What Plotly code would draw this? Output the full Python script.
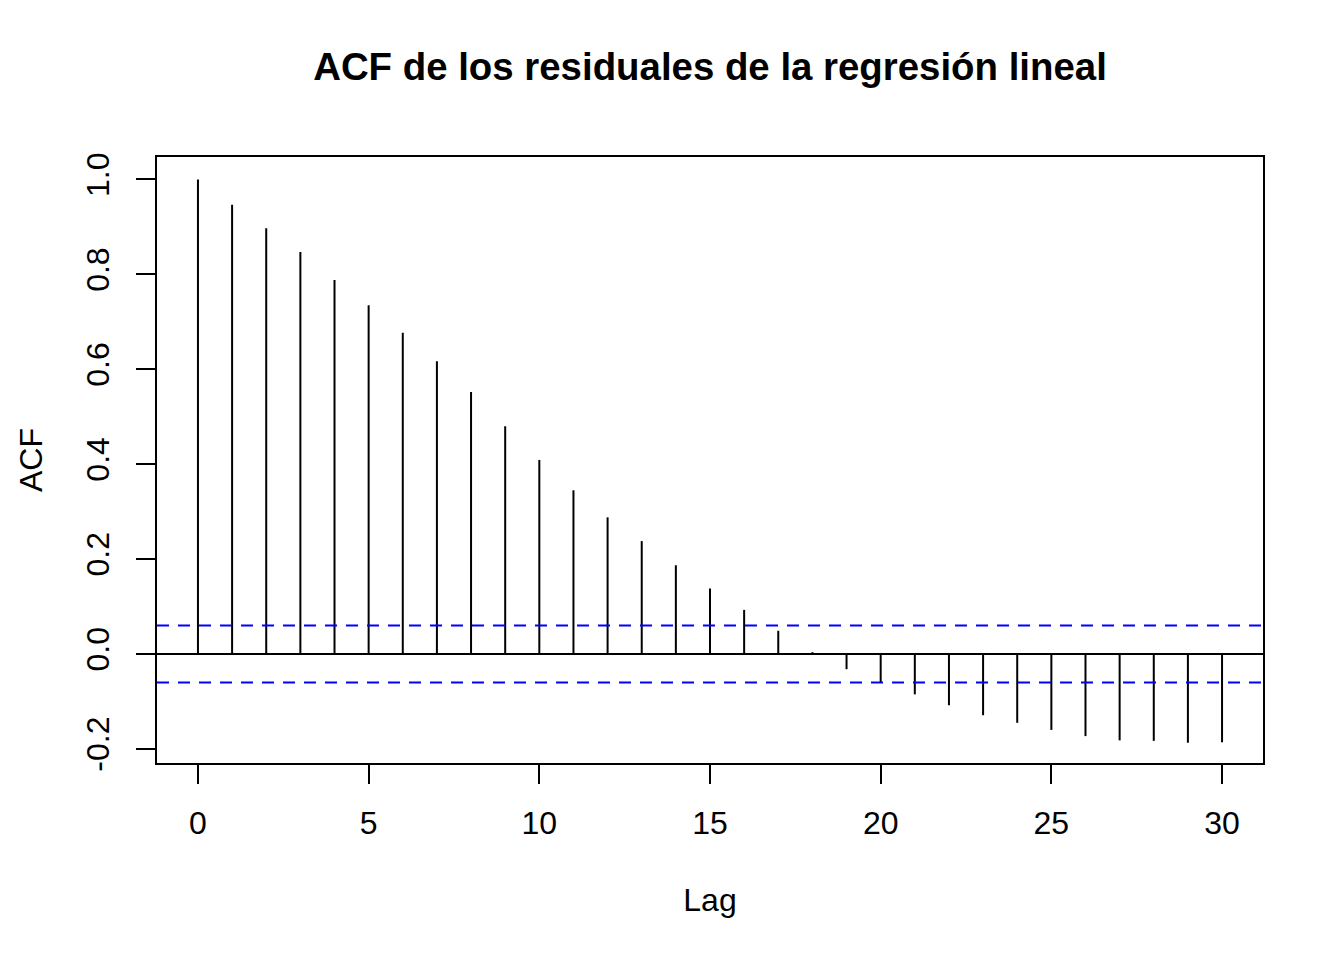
import plotly.graph_objects as go

lags = list(range(31))
acf_values = [1.000, 0.947, 0.897, 0.847, 0.788, 0.735, 0.677, 0.617, 0.552, 0.480,
              0.409, 0.345, 0.288, 0.238, 0.187, 0.138, 0.093, 0.049, 0.004, -0.032,
              -0.059, -0.085, -0.108, -0.129, -0.145, -0.160, -0.173, -0.182, -0.183,
              -0.187, -0.186]
ci_bound = 0.060
x_ticks = [0, 5, 10, 15, 20, 25, 30]
y_ticks = [-0.2, 0.0, 0.2, 0.4, 0.6, 0.8, 1.0]
y_tick_labels = ["-0.2", "0.0", "0.2", "0.4", "0.6", "0.8", "1.0"]

FONT = "Liberation Sans, Arial, Helvetica, sans-serif"

# spikes built from the data arrays
xs, ys = [], []
for lag, v in zip(lags, acf_values):
    xs += [lag, lag, None]
    ys += [0, v, None]

fig = go.Figure()
fig.add_trace(go.Scatter(x=xs, y=ys, mode="lines",
                         line=dict(color="black", width=2), hoverinfo="skip",
                         showlegend=False))

# zero line and confidence bounds
fig.add_hline(y=0, line=dict(color="black", width=2))
fig.add_hline(y=ci_bound, line=dict(color="blue", width=2, dash="12px,9px"))
fig.add_hline(y=-ci_bound, line=dict(color="blue", width=2, dash="12px,9px"))

W, H = 1336, 952
fig.update_layout(
    width=W, height=H,
    margin=dict(l=149, r=81, t=149, b=197),
    paper_bgcolor="white", plot_bgcolor="white",
    font=dict(family=FONT, size=32, color="black"),
    title=dict(text="<b>ACF de los residuales de la regresión lineal</b>",
               x=0.5, xref="paper", xanchor="center",
               y=1 - 59 / H, yref="container", yanchor="middle",
               font=dict(size=38.4, family=FONT, color="black")),
    showlegend=False,
)

fig.update_xaxes(range=[-1.2, 31.2], tickmode="array", tickvals=x_ticks,
                 ticks="outside", ticklen=19, tickwidth=2, tickcolor="black",
                 ticklabelstandoff=12,
                 showline=True, linewidth=2, linecolor="black", mirror=True,
                 showgrid=False, zeroline=False,
                 title=dict(text="Lag", standoff=48, font=dict(size=32)))
fig.update_yaxes(range=[-0.2297, 1.0474], tickmode="array", tickvals=y_ticks,
                 ticktext=y_tick_labels, tickangle=-90,
                 ticks="outside", ticklen=19, tickwidth=2, tickcolor="black",
                 ticklabelstandoff=14,
                 showline=True, linewidth=2, linecolor="black", mirror=True,
                 showgrid=False, zeroline=False,
                 title=dict(text="ACF", standoff=28, font=dict(size=32)))

fig.write_html("out.html")
